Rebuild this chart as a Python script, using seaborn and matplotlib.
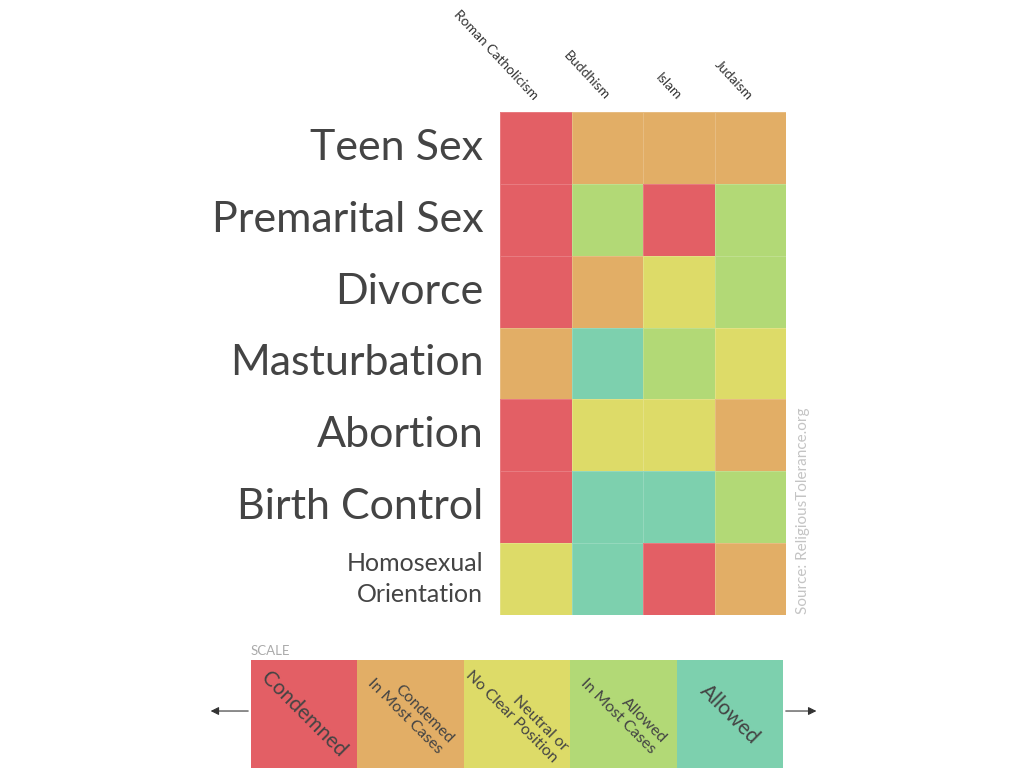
import numpy as np
import pandas as pd
import matplotlib
matplotlib.use('Agg')
import matplotlib.pyplot as plt
from matplotlib.colors import ListedColormap
from matplotlib.patches import FancyArrowPatch
import seaborn as sns

sns.set_theme(style="white")
plt.rcParams['font.family'] = ['Lato', 'DejaVu Sans']

# data
religions = ['Roman Catholicism', 'Buddhism', 'Islam', 'Judaism']
topics = ['Teen Sex', 'Premarital Sex', 'Divorce', 'Masturbation',
          'Abortion', 'Birth Control', 'Homosexual\nOrientation']
# 0 condemned .. 4 allowed
stance = [
    [0, 1, 1, 1],
    [0, 3, 0, 3],
    [0, 1, 2, 3],
    [1, 4, 3, 2],
    [0, 2, 2, 1],
    [0, 4, 4, 3],
    [2, 4, 0, 1],
]
scale_labels = ['Condemned', 'Condemed\nIn Most Cases', 'Neutral or\nNo Clear Position',
                'Allowed\nIn Most Cases', 'Allowed']
scale_colors = ['#E35F65', '#E2AE66', '#DDDB68', '#B2D976', '#7DD0AE']

cmap = ListedColormap(scale_colors)
df = pd.DataFrame(stance, index=topics, columns=religions)

fig = plt.figure(figsize=(10.24, 7.68), dpi=100)

# main grid
ax = fig.add_axes([0.4883, 0.1992, 0.2793, 0.6550])
sns.heatmap(df, ax=ax, cmap=cmap, vmin=-0.5, vmax=4.5, cbar=False,
            linewidths=0.7, linecolor=(1, 1, 1, 0.18))
ax.xaxis.tick_top()
ax.set_xticklabels(religions, rotation=-47, ha='right', va='center',
                   rotation_mode='anchor', fontsize=10, color='#333333')
ax.tick_params(axis='x', length=0, pad=10)
ax.set_yticklabels(topics, rotation=0, fontsize=31, color='#444444',
                   ha='right', va='center', linespacing=1.45)
ax.tick_params(axis='y', length=0, pad=12)
ylabs = ax.get_yticklabels()
ylabs[-1].set_fontsize(18)
ax.set_xlabel('')
ax.set_ylabel('')

fig.text(0.7845, 0.2, 'Source: ReligiousTolerance.org', rotation=90,
         ha='center', va='bottom', fontsize=11, color='#c4c4c4')

# scale bar
sax = fig.add_axes([0.2451, -0.035, 0.5195, 0.1757])
scale_df = pd.DataFrame([list(range(len(scale_labels)))], columns=scale_labels)
sns.heatmap(scale_df, ax=sax, cmap=cmap, vmin=-0.5, vmax=4.5, cbar=False,
            xticklabels=False, yticklabels=False)
for i, lab in enumerate(scale_labels):
    single = '\n' not in lab
    sax.text(i + 0.5, 0.38 if not single else 0.40, lab, rotation=-45,
             ha='center', va='center', multialignment='right',
             fontsize=15 if single else 11.5, color='#444444', linespacing=1.1)
fig.text(0.2451, 0.1445, 'SCALE', ha='left', va='bottom', fontsize=9.5, color='#aaaaaa')

# arrows
fig.add_artist(FancyArrowPatch(
    (0.2451, 0.0742), (0.203, 0.0742), transform=fig.transFigure,
    arrowstyle='-|>', mutation_scale=12, color='#333333', lw=0.8))
fig.add_artist(FancyArrowPatch(
    (0.7646, 0.0742), (0.800, 0.0742), transform=fig.transFigure,
    arrowstyle='-|>', mutation_scale=12, color='#333333', lw=0.8))

fig.savefig('out.png', dpi=100)
